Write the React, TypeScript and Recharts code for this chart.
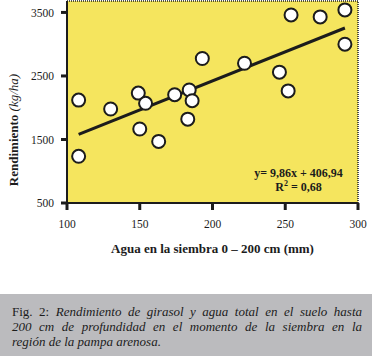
import React from 'react';
import {
  ComposedChart,
  Scatter,
  Line,
  XAxis,
  YAxis,
  CartesianGrid,
  ReferenceLine,
  Label,
} from 'recharts';

// water at sowing (mm) and sunflower yield (kg/ha)
const aguaMm = [108, 108, 130, 149, 154, 150, 163, 174, 184, 183, 186, 193, 222, 246, 252, 254, 274, 291, 291];
const rendimiento = [2120, 1235, 1980, 2230, 2070, 1665, 1470, 2205, 2280, 1820, 2110, 2775, 2700, 2560, 2265, 3460, 3430, 3540, 3000];

// fitted line as drawn in the figure
const lineaX = [108, 291];
const lineaY = [1580, 3255];

const xTicks = [100, 150, 200, 250, 300];
const yTicks = [500, 1500, 2500, 3500];

const captionLines = [
  'Rendimiento de girasol y agua total en el suelo hasta',
  '200 cm de profundidad en el momento de la siembra en la',
  'región de la pampa arenosa.',
];

const puntos = aguaMm.map((x, i) => ({ x, y: rendimiento[i] }));
const recta = lineaX.map((x, i) => ({ x, y: lineaY[i] }));

const FONT = '"Liberation Serif", "DejaVu Serif", serif';
const INK = '#1c1c1c';

const Punto = (props: any) => (
  <circle cx={props.cx} cy={props.cy} r={6.5} fill="#ffffff" stroke={INK} strokeWidth={2} />
);

const YTitle = () => (
  <text
    x={13}
    y={130}
    transform="rotate(-90, 13, 130)"
    textAnchor="middle"
    dominantBaseline="central"
    fontFamily={FONT}
    fontSize={13}
    fill={INK}
  >
    <tspan fontWeight="bold">Rendimiento </tspan>
    <tspan fontStyle="italic">(kg/ha)</tspan>
  </text>
);

export default function App() {
  return (
    <div style={{ position: 'absolute', left: 0, top: 0, width: 372, height: 356, background: '#fff', fontFamily: FONT }}>
      <ComposedChart width={372} height={293} margin={{ top: 1, right: 14, bottom: 30, left: 0 }}>
        <CartesianGrid horizontal={false} vertical={false} fill="#F5E55E" />
        <XAxis
          type="number"
          dataKey="x"
          domain={[100, 300]}
          ticks={xTicks}
          height={60}
          axisLine={{ stroke: INK, strokeWidth: 2 }}
          tickLine={{ stroke: INK, strokeWidth: 3 }}
          tickSize={7}
          tickMargin={10}
          tick={{ fontSize: 11.5, fill: INK, fontFamily: FONT }}
        >
          <Label
            value="Agua en la siembra 0 – 200 cm (mm)"
            position="insideBottom"
            offset={10}
            style={{ fontSize: 13, fontWeight: 'bold', fill: INK, fontFamily: FONT }}
          />
        </XAxis>
        <YAxis
          type="number"
          dataKey="y"
          domain={[500, 3680]}
          ticks={yTicks}
          width={67}
          axisLine={{ stroke: INK, strokeWidth: 2 }}
          tickLine={{ stroke: INK, strokeWidth: 3 }}
          tickSize={6}
          tickMargin={7}
          tick={{ fontSize: 11.5, fill: INK, fontFamily: FONT }}
        >
          <Label content={<YTitle />} />
        </YAxis>
        <ReferenceLine y={3680} stroke={INK} strokeWidth={1.5} strokeDasharray="1 1" />
        <ReferenceLine x={300} stroke={INK} strokeWidth={1.5} strokeDasharray="1 1" />
        <Line
          data={recta}
          dataKey="y"
          stroke={INK}
          strokeWidth={3}
          dot={false}
          isAnimationActive={false}
        />
        <Scatter data={puntos} dataKey="y" shape={<Punto />} isAnimationActive={false} />
      </ComposedChart>
      <div
        style={{
          position: 'absolute',
          left: 200,
          top: 166,
          width: 197,
          textAlign: 'center',
          fontSize: 12,
          fontWeight: 'bold',
          color: INK,
          lineHeight: '14px',
        }}
      >
        y= 9,86x + 406,94
        <br />
        R<sup style={{ fontSize: 8, lineHeight: 0 }}>2</sup> = 0,68
      </div>
      <div
        style={{
          position: 'absolute',
          left: 0,
          top: 294,
          width: 372,
          height: 62,
          background: '#BBBBBE',
          boxSizing: 'border-box',
          padding: '10px 10px 0 12px',
          fontSize: 13,
          lineHeight: '15px',
          color: INK,
        }}
      >
        {captionLines.map((line, i) => (
          <div
            key={i}
            style={{
              textAlign: 'justify',
              textAlignLast: i < captionLines.length - 1 ? 'justify' : 'left',
              whiteSpace: 'nowrap',
            }}
          >
            {i === 0 ? <span>Fig. 2: </span> : null}
            <i>{line}</i>
          </div>
        ))}
      </div>
    </div>
  );
}
